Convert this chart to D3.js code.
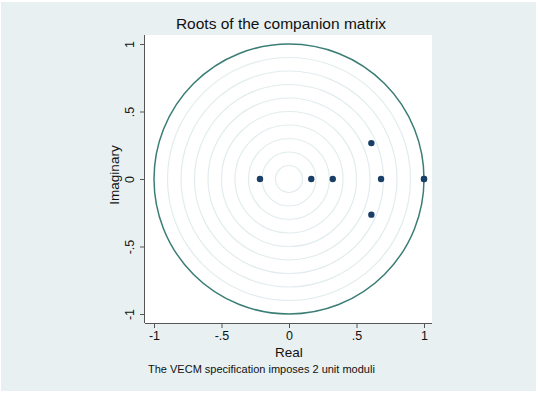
<!DOCTYPE html>
<html>
<head>
<meta charset="utf-8">
<script src="https://cdn.jsdelivr.net/npm/d3@7"></script>
<style>
  body { margin: 0; background: #fff; }
  text { font-family: "Liberation Sans", Arial, sans-serif; fill: #111; }
</style>
</head>
<body>
<script>
// eigenvalues of the companion matrix (real, imaginary)
var realParts = [-0.215, 0.165, 0.324, 0.61, 0.61, 0.682, 1, 1];
var imagParts = [0, 0, 0, 0.266, -0.264, 0, 0, 0];
var tickValues = [-1, -0.5, 0, 0.5, 1];
var tickLabels = ["-1", "-.5", "0", ".5", "1"];
var gridRadii = [0.1, 0.2, 0.3, 0.4, 0.5, 0.6, 0.7, 0.8, 0.9];

var width = 538, height = 393;

var svg = d3.select("body").append("svg")
  .attr("width", width)
  .attr("height", height);

// graph region
svg.append("rect")
  .attr("x", 1).attr("y", 2)
  .attr("width", 535).attr("height", 389)
  .attr("fill", "#e8f0f2");

// plot region
var pLeft = 145, pRight = 432, pTop = 35, pBottom = 323;
svg.append("rect")
  .attr("x", pLeft).attr("y", pTop)
  .attr("width", pRight - pLeft).attr("height", pBottom - pTop)
  .attr("fill", "#fff");

var x = d3.scaleLinear().domain([-1, 1]).range([154, 424]);
var y = d3.scaleLinear().domain([-1, 1]).range([314, 44]);

// concentric grid circles
svg.selectAll("circle.grid")
  .data(gridRadii)
  .enter()
  .append("circle")
  .attr("class", "grid")
  .attr("cx", x(0))
  .attr("cy", y(0))
  .attr("r", function(d){ return x(d) - x(0); })
  .attr("fill", "none")
  .attr("stroke", "#e2ecee")
  .attr("stroke-width", 1.2);

// unit circle
svg.append("circle")
  .attr("cx", x(0))
  .attr("cy", y(0))
  .attr("r", x(1) - x(0))
  .attr("fill", "none")
  .attr("stroke", "#3a7d75")
  .attr("stroke-width", 1.5);

// axes
var xAxis = d3.axisBottom(x)
  .tickValues(tickValues)
  .tickFormat(function(d, i){ return tickLabels[i]; })
  .tickSizeOuter(0)
  .tickSize(5);

var gx = svg.append("g")
  .attr("transform", "translate(0," + pBottom + ")")
  .call(xAxis);
gx.attr("font-family", null).attr("font-size", null);
gx.select(".domain").attr("d", "M" + pLeft + ",0.5H" + pRight).attr("stroke", "#555");
gx.selectAll(".tick line").attr("stroke", "#555");
gx.selectAll(".tick text")
  .attr("y", 8)
  .attr("font-size", "12.5px")
  .attr("fill", "#111");

var yAxis = d3.axisLeft(y)
  .tickValues(tickValues)
  .tickFormat(function(d, i){ return tickLabels[i]; })
  .tickSizeOuter(0)
  .tickSize(5);

var gy = svg.append("g")
  .attr("transform", "translate(" + pLeft + ",0)")
  .call(yAxis);
gy.attr("font-family", null).attr("font-size", null);
gy.select(".domain").attr("d", "M-0.5," + pTop + "V" + pBottom).attr("stroke", "#555");
gy.selectAll(".tick line").attr("stroke", "#555");
gy.selectAll(".tick text")
  .attr("x", 0).attr("y", 0).attr("dy", 0)
  .attr("text-anchor", "middle")
  .attr("transform", "translate(-11,0) rotate(-90)")
  .attr("font-size", "12.5px")
  .attr("fill", "#111");

// points
svg.selectAll("circle.root")
  .data(realParts)
  .enter()
  .append("circle")
  .attr("class", "root")
  .attr("cx", function(d){ return x(d); })
  .attr("cy", function(d, i){ return y(imagParts[i]); })
  .attr("r", 3.2)
  .attr("fill", "#1a3f66");

// titles
svg.append("text")
  .attr("x", 281).attr("y", 29)
  .attr("text-anchor", "middle")
  .attr("font-size", "15.5px")
  .text("Roots of the companion matrix");

svg.append("text")
  .attr("x", 289).attr("y", 357)
  .attr("text-anchor", "middle")
  .attr("font-size", "13.5px")
  .text("Real");

svg.append("text")
  .attr("transform", "translate(119,175) rotate(-90)")
  .attr("text-anchor", "middle")
  .attr("font-size", "13.5px")
  .text("Imaginary");

svg.append("text")
  .attr("x", 148).attr("y", 373)
  .attr("font-size", "11px")
  .text("The VECM specification imposes 2 unit moduli");
</script>
</body>
</html>
